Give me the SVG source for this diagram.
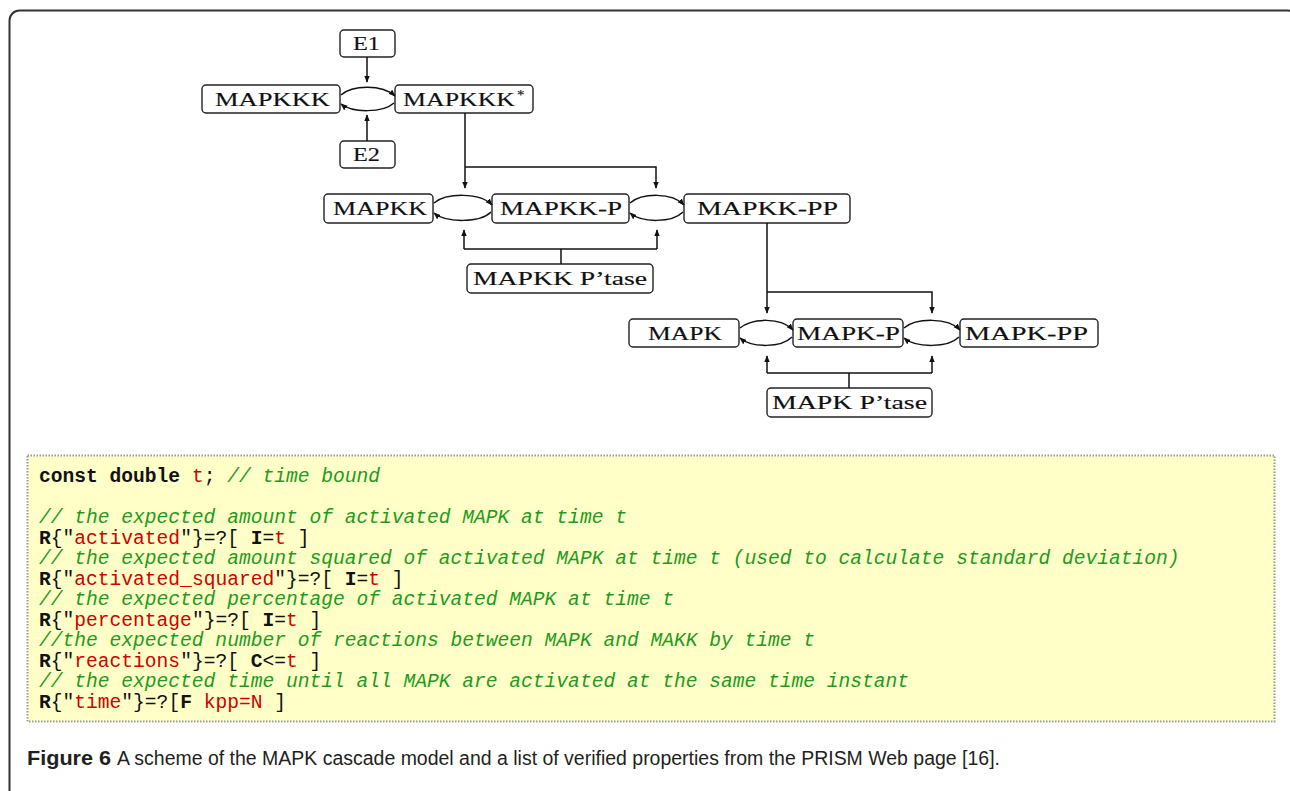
<svg xmlns="http://www.w3.org/2000/svg" width="1290" height="791" viewBox="0 0 1290 791">
<defs>
<marker id="ah" viewBox="0 0 10 10" refX="9" refY="5" markerWidth="7" markerHeight="7" markerUnits="userSpaceOnUse" orient="auto">
<path d="M0,1 L10,5 L0,9 Z" fill="#111"/>
</marker>
<style>
.box{fill:#fff;stroke:#222;stroke-width:1.4}
.lbl{font-family:"Liberation Serif","DejaVu Serif",serif;font-size:19px;fill:#111;stroke:#111;stroke-width:0.15}
.con{fill:none;stroke:#111;stroke-width:1.5}
.code{font-family:"Liberation Mono","DejaVu Sans Mono",monospace;font-size:19.6px;fill:#111}
.k{font-weight:bold}
.s{fill:#d00000}
.c{fill:#1e9a1e;font-style:italic}
.cap{font-family:"Liberation Sans","Noto Sans",sans-serif;font-size:20px;fill:#231f20}
</style>
</defs>
<rect x="9.5" y="10.5" width="1288" height="800" rx="10" fill="#fff" stroke="#333" stroke-width="2"/>

<g id="E1"><rect class="box" x="340" y="30" width="55" height="27" rx="4"/><text class="lbl" x="353" y="49.5" textLength="27" lengthAdjust="spacingAndGlyphs">E1</text></g>
<g id="E2"><rect class="box" x="340" y="141" width="55" height="27" rx="4"/><text class="lbl" x="353" y="160.5" textLength="27" lengthAdjust="spacingAndGlyphs">E2</text></g>
<g id="MAPKKK"><rect class="box" x="202" y="85" width="138" height="28" rx="4"/><text class="lbl" x="215" y="105.5" textLength="115" lengthAdjust="spacingAndGlyphs">MAPKKK</text></g>
<g id="MAPKKKstar"><rect class="box" x="395" y="85" width="138" height="28" rx="4"/><text class="lbl" x="403" y="105.5" textLength="112" lengthAdjust="spacingAndGlyphs">MAPKKK</text><text class="lbl" x="517" y="100" style="font-size:15px">*</text></g>
<g id="MAPKK"><rect class="box" x="324" y="194" width="109" height="29" rx="4"/><text class="lbl" x="333" y="215" textLength="94" lengthAdjust="spacingAndGlyphs">MAPKK</text></g>
<g id="MAPKK-P"><rect class="box" x="492" y="194" width="137" height="29" rx="4"/><text class="lbl" x="500" y="215" textLength="122" lengthAdjust="spacingAndGlyphs">MAPKK-P</text></g>
<g id="MAPKK-PP"><rect class="box" x="684" y="194" width="166" height="29" rx="4"/><text class="lbl" x="697" y="215" textLength="141" lengthAdjust="spacingAndGlyphs">MAPKK-PP</text></g>
<g id="MAPKK-Ptase"><rect class="box" x="467" y="264" width="186" height="29" rx="4"/><text class="lbl" x="473" y="285" textLength="174" lengthAdjust="spacingAndGlyphs">MAPKK P’tase</text></g>
<g id="MAPK"><rect class="box" x="629" y="319" width="110" height="28" rx="4"/><text class="lbl" x="648" y="339.5" textLength="74" lengthAdjust="spacingAndGlyphs">MAPK</text></g>
<g id="MAPK-P"><rect class="box" x="793" y="319" width="110" height="28" rx="4"/><text class="lbl" x="797" y="339.5" textLength="103" lengthAdjust="spacingAndGlyphs">MAPK-P</text></g>
<g id="MAPK-PP"><rect class="box" x="960" y="319" width="138" height="28" rx="4"/><text class="lbl" x="965" y="339.5" textLength="123" lengthAdjust="spacingAndGlyphs">MAPK-PP</text></g>
<g id="MAPK-Ptase"><rect class="box" x="767" y="388" width="165" height="29" rx="4"/><text class="lbl" x="772" y="409" textLength="155" lengthAdjust="spacingAndGlyphs">MAPK P’tase</text></g>

<g id="connectors">
<path class="con" d="M367,57 V82" marker-end="url(#ah)"/>
<path class="con" d="M367,141 V115" marker-end="url(#ah)"/>
<path class="con" d="M341,95 C352,85 382,84 395,96" marker-end="url(#ah)"/>
<path class="con" d="M394,103 C383,113 352,113 341,104" marker-end="url(#ah)"/>

<path class="con" d="M465,113 V188" marker-end="url(#ah)"/>
<path class="con" d="M465,167 H656 V188" marker-end="url(#ah)"/>
<path class="con" d="M434,203 C446,193 480,192 492,205" marker-end="url(#ah)"/>
<path class="con" d="M491,212 C480,223 446,223 434,213" marker-end="url(#ah)"/>
<path class="con" d="M630,203 C642,193 672,192 684,205" marker-end="url(#ah)"/>
<path class="con" d="M683,212 C672,223 642,223 630,213" marker-end="url(#ah)"/>
<path class="con" d="M561,264 V249"/>
<path class="con" d="M464,249 H657"/>
<path class="con" d="M464,249 V230" marker-end="url(#ah)"/>
<path class="con" d="M657,249 V230" marker-end="url(#ah)"/>

<path class="con" d="M767,223 V313" marker-end="url(#ah)"/>
<path class="con" d="M767,292 H932 V313" marker-end="url(#ah)"/>
<path class="con" d="M740,328 C752,318 781,317 793,330" marker-end="url(#ah)"/>
<path class="con" d="M792,337 C781,348 752,348 740,338" marker-end="url(#ah)"/>
<path class="con" d="M904,328 C916,318 948,317 960,330" marker-end="url(#ah)"/>
<path class="con" d="M959,337 C948,348 916,348 904,338" marker-end="url(#ah)"/>
<path class="con" d="M849,388 V373"/>
<path class="con" d="M767,373 H932"/>
<path class="con" d="M767,373 V356" marker-end="url(#ah)"/>
<path class="con" d="M932,373 V356" marker-end="url(#ah)"/>
</g>

<g id="properties">
<rect x="27.5" y="455.5" width="1247" height="266" fill="#ffffc8" stroke="#999" stroke-width="2" stroke-dasharray="1.5,1.5"/>
<text class="code" x="39" y="482"><tspan class="k">const double</tspan> <tspan class="s">t</tspan>; <tspan class="c">// time bound</tspan></text>
<text class="code" x="39" y="523"><tspan class="c">// the expected amount of activated MAPK at time t</tspan></text>
<text class="code" x="39" y="543.5"><tspan class="k">R</tspan>{"<tspan class="s">activated</tspan>"}=?[ <tspan class="k">I</tspan>=<tspan class="s">t</tspan> ]</text>
<text class="code" x="39" y="564"><tspan class="c">// the expected amount squared of activated MAPK at time t (used to calculate standard deviation)</tspan></text>
<text class="code" x="39" y="584.5"><tspan class="k">R</tspan>{"<tspan class="s">activated_squared</tspan>"}=?[ <tspan class="k">I</tspan>=<tspan class="s">t</tspan> ]</text>
<text class="code" x="39" y="605"><tspan class="c">// the expected percentage of activated MAPK at time t</tspan></text>
<text class="code" x="39" y="625.5"><tspan class="k">R</tspan>{"<tspan class="s">percentage</tspan>"}=?[ <tspan class="k">I</tspan>=<tspan class="s">t</tspan> ]</text>
<text class="code" x="39" y="646"><tspan class="c">//the expected number of reactions between MAPK and MAKK by time t</tspan></text>
<text class="code" x="39" y="666.5"><tspan class="k">R</tspan>{"<tspan class="s">reactions</tspan>"}=?[ <tspan class="k">C</tspan>&lt;=<tspan class="s">t</tspan> ]</text>
<text class="code" x="39" y="687"><tspan class="c">// the expected time until all MAPK are activated at the same time instant</tspan></text>
<text class="code" x="39" y="707.5"><tspan class="k">R</tspan>{"<tspan class="s">time</tspan>"}=?[<tspan class="k">F</tspan> <tspan class="s">kpp=N</tspan> ]</text>
</g>

<g id="caption">
<text class="cap" x="27" y="765" style="font-weight:bold" textLength="84" lengthAdjust="spacingAndGlyphs">Figure 6</text>
<text class="cap" x="117" y="765" textLength="883" lengthAdjust="spacingAndGlyphs">A scheme of the MAPK cascade model and a list of verified properties from the PRISM Web page [16].</text>
</g>
</svg>
